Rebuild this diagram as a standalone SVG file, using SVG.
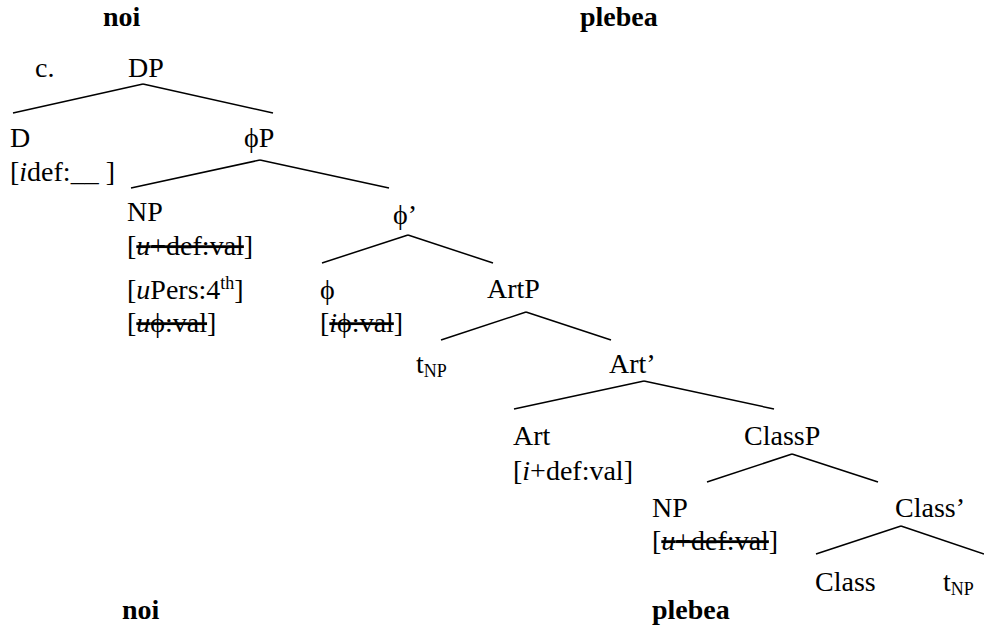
<svg xmlns="http://www.w3.org/2000/svg" width="984" height="630" viewBox="0 0 984 630" font-family="Liberation Serif, Times New Roman, Noto Serif, DejaVu Serif, serif">
<style>
text{font-size:28px;fill:#000}
.b{font-weight:bold}
.s{text-decoration:line-through}
.sub{font-size:18px}
.sup{font-size:18px}
line{stroke:#000;stroke-width:1.5}
</style>
<rect width="984" height="630" fill="#fff"/>
<g id="headers">
<text class="b" x="103" y="26">noi</text>
<text class="b" x="580" y="26">plebea</text>
<text class="b" x="122" y="619">noi</text>
<text class="b" x="652" y="619">plebea</text>
<text x="35" y="77">c.</text>
</g>
<g id="connectors">
<line x1="143" y1="84" x2="13" y2="113"/>
<line x1="143" y1="84" x2="273" y2="113"/>
<line x1="260" y1="160" x2="131" y2="188"/>
<line x1="260" y1="160" x2="389" y2="188"/>
<line x1="408" y1="235" x2="322" y2="263"/>
<line x1="408" y1="235" x2="493" y2="263"/>
<line x1="526" y1="312" x2="441" y2="340"/>
<line x1="526" y1="312" x2="611" y2="340"/>
<line x1="644" y1="381" x2="514" y2="409"/>
<line x1="644" y1="381" x2="774" y2="409"/>
<line x1="792" y1="454" x2="707" y2="482"/>
<line x1="792" y1="454" x2="878" y2="482"/>
<line x1="901" y1="526" x2="816" y2="554"/>
<line x1="901" y1="526" x2="984" y2="554"/>
</g>
<g id="DP"><text x="128" y="77">DP</text></g>
<g id="D"><text x="10" y="147">D</text><text x="10" y="181">[<tspan font-style="italic">i</tspan>def:__ ]</text></g>
<g id="phiP"><text x="244" y="147">ϕP</text></g>
<g id="NP1"><text x="127" y="221">NP</text>
<text x="127" y="255">[<tspan class="s"><tspan font-style="italic">u</tspan>+def:val</tspan>]</text>
<text x="127" y="299">[<tspan font-style="italic">u</tspan>Pers:4<tspan class="sup" dy="-10">th</tspan><tspan dy="10">]</tspan></text>
<text x="127" y="332">[<tspan class="s"><tspan font-style="italic">u</tspan>ϕ:val</tspan>]</text></g>
<g id="phibar"><text x="393" y="224">ϕ’</text></g>
<g id="phi"><text x="320" y="299">ϕ</text><text x="320" y="332">[<tspan class="s"><tspan font-style="italic">i</tspan>ϕ:val</tspan>]</text></g>
<g id="ArtP"><text x="487" y="298">ArtP</text></g>
<g id="tNP1"><text x="416" y="373">t<tspan class="sub" dy="4">NP</tspan></text></g>
<g id="Artbar"><text x="609" y="373">Art’</text></g>
<g id="Art"><text x="513" y="445">Art</text><text x="513" y="480">[<tspan font-style="italic">i</tspan>+def:val]</text></g>
<g id="ClassP"><text x="744" y="445">ClassP</text></g>
<g id="NP2"><text x="652" y="517">NP</text><text x="652" y="550">[<tspan class="s"><tspan font-style="italic">u</tspan>+def:val</tspan>]</text></g>
<g id="Classbar"><text x="895" y="517">Class’</text></g>
<g id="Class"><text x="815" y="591">Class</text></g>
<g id="tNP2"><text x="943" y="591">t<tspan class="sub" dy="4">NP</tspan></text></g>
</svg>
